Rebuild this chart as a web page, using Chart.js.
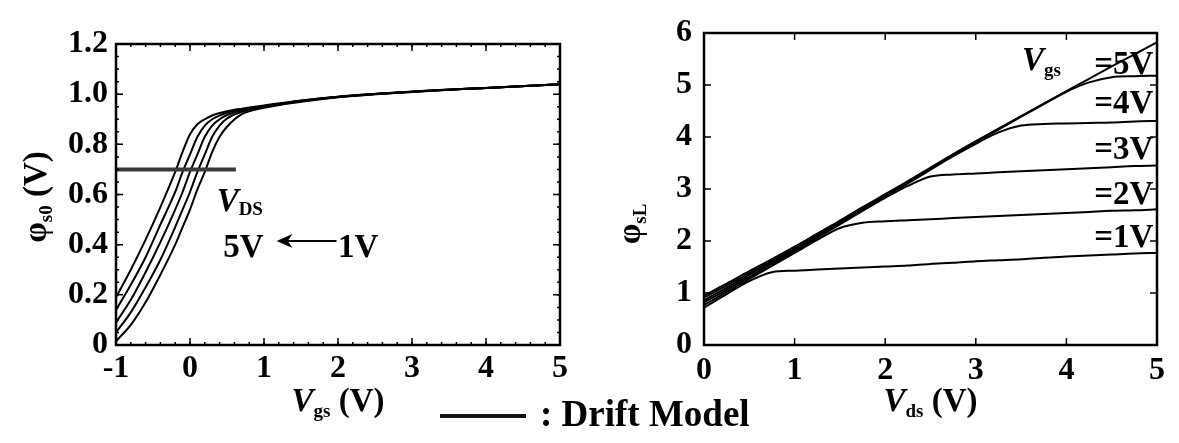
<!DOCTYPE html>
<html>
<head>
<meta charset="utf-8">
<script src="https://cdn.jsdelivr.net/npm/chart.js@4.4.1/dist/chart.umd.min.js"></script>
<style>
    body { margin: 0; background: #fff; }
    #page { position: relative; width: 1179px; height: 443px; overflow: hidden; background: #fff; }
    #phi-s0 { position: absolute; left: 0; top: 0; }
    #phi-sl { position: absolute; left: 590px; top: 0; }
    .key { position: absolute; left: 440px; top: 392px; font: bold 37px "Liberation Serif", serif; color: #000; white-space: nowrap; }
    .key .swatch { display: inline-block; width: 86px; height: 4px; background: #111; vertical-align: middle; margin-right: 14px; position: relative; top: -2px; }
</style>
</head>
<body>
<div id="page">
    <canvas id="phi-s0" width="590" height="443"></canvas>
    <canvas id="phi-sl" width="589" height="443"></canvas>
    <div class="key"><span class="swatch"></span>: Drift Model</div>
</div>
<script>
const serif = '"Liberation Serif", "Times New Roman", serif';

// phi_s0 against Vgs, one curve per drain bias
const vgsPoints = [-1, -0.8, -0.6, -0.4, -0.2, -0.1, 0, 0.1, 0.2, 0.3, 0.4, 0.5, 0.7, 1, 1.5, 2, 3, 4, 5];
const phiS0_vds5 = [0.19, 0.30, 0.42, 0.55, 0.69, 0.77, 0.84, 0.88, 0.90, 0.915, 0.925, 0.932, 0.942, 0.955, 0.975, 0.99, 1.01, 1.025, 1.04];
const phiS0_vds4 = [0.14, 0.24, 0.35, 0.48, 0.61, 0.69, 0.76, 0.83, 0.875, 0.90, 0.915, 0.926, 0.939, 0.953, 0.974, 0.99, 1.01, 1.025, 1.04];
const phiS0_vds3 = [0.09, 0.18, 0.29, 0.41, 0.54, 0.61, 0.69, 0.76, 0.83, 0.875, 0.90, 0.917, 0.935, 0.951, 0.973, 0.989, 1.01, 1.025, 1.04];
const phiS0_vds2 = [0.05, 0.13, 0.23, 0.34, 0.47, 0.54, 0.61, 0.69, 0.76, 0.83, 0.875, 0.903, 0.93, 0.949, 0.972, 0.989, 1.01, 1.025, 1.04];
const phiS0_vds1 = [0.015, 0.08, 0.17, 0.28, 0.40, 0.47, 0.54, 0.62, 0.69, 0.77, 0.83, 0.87, 0.92, 0.946, 0.97, 0.988, 1.009, 1.025, 1.04];
const thresholdVgs = [-1, 0.62];
const thresholdPhi = [0.7, 0.7];

const vgsTicks = ['-1', '0', '1', '2', '3', '4', '5'];
const phiS0Ticks = ['0', '0.2', '0.4', '0.6', '0.8', '1.0', '1.2'];

// phi_sL against Vds, one curve per gate bias
const vdsPoints = [0, 0.25, 0.5, 0.75, 1, 1.25, 1.5, 1.75, 2, 2.25, 2.5, 2.75, 3, 3.25, 3.5, 3.75, 4, 4.25, 4.5, 4.75, 5];
const phiSL_vgs1 = [0.72, 0.98, 1.23, 1.40, 1.43, 1.45, 1.47, 1.49, 1.51, 1.53, 1.56, 1.58, 1.61, 1.63, 1.65, 1.68, 1.70, 1.72, 1.74, 1.76, 1.77];
const phiSL_vgs2 = [0.77, 1.02, 1.27, 1.52, 1.77, 2.02, 2.25, 2.35, 2.38, 2.40, 2.42, 2.44, 2.46, 2.48, 2.50, 2.52, 2.54, 2.56, 2.58, 2.59, 2.61];
const phiSL_vgs3 = [0.82, 1.06, 1.31, 1.56, 1.80, 2.06, 2.32, 2.58, 2.83, 3.06, 3.24, 3.28, 3.30, 3.32, 3.34, 3.36, 3.38, 3.40, 3.42, 3.44, 3.45];
const phiSL_vgs4 = [0.86, 1.10, 1.35, 1.59, 1.83, 2.08, 2.34, 2.60, 2.86, 3.11, 3.37, 3.63, 3.87, 4.09, 4.22, 4.25, 4.26, 4.27, 4.28, 4.30, 4.31];
const phiSL_vgs5 = [0.91, 1.14, 1.38, 1.62, 1.86, 2.11, 2.37, 2.63, 2.88, 3.13, 3.39, 3.65, 3.90, 4.14, 4.39, 4.63, 4.87, 5.05, 5.15, 5.17, 5.18];
const phiSL_upper = [0.95, 1.18, 1.42, 1.65, 1.89, 2.14, 2.39, 2.65, 2.90, 3.15, 3.41, 3.67, 3.92, 4.16, 4.40, 4.64, 4.88, 5.12, 5.36, 5.59, 5.82];

const vdsTicks = ['0', '1', '2', '3', '4', '5'];
const phiSLTicks = ['0', '1', '2', '3', '4', '5', '6'];

function toPoints(xs, ys) {
    return xs.map((x, i) => ({ x: x, y: ys[i] }));
}

function curve(xs, ys, width, color) {
    return {
        data: toPoints(xs, ys),
        borderColor: color || '#000',
        borderWidth: width,
        pointRadius: 0,
        cubicInterpolationMode: 'monotone',
        fill: false
    };
}

// text made of runs with their own font and baseline shift (for subscripts)
function drawRich(ctx, parts, x, y, align) {
    let width = 0;
    parts.forEach(p => {
        ctx.font = p.font;
        width += ctx.measureText(p.text).width + (p.gap || 0);
    });
    let cx = x;
    if (align === 'center') cx = x - width / 2;
    if (align === 'right') cx = x - width;
    ctx.textAlign = 'left';
    ctx.textBaseline = 'alphabetic';
    parts.forEach(p => {
        ctx.font = p.font;
        ctx.fillText(p.text, cx, y + (p.dy || 0));
        cx += ctx.measureText(p.text).width + (p.gap || 0);
    });
}

function tickValues(min, max, step) {
    let out = [];
    let n = Math.round((max - min) / step);
    for (let i = 0; i <= n; i++) out.push(min + i * step);
    return out;
}

const framePlugin = {
    id: 'frame',
    afterDatasetsDraw(chart, args, opts) {
        const ctx = chart.ctx;
        const a = chart.chartArea;
        const xs = chart.scales.x;
        const ys = chart.scales.y;
        ctx.save();
        ctx.fillStyle = '#000';
        ctx.strokeStyle = '#000';

        // inward ticks on all four sides
        ctx.lineWidth = 1.5;
        const xTicks = (step, len) => {
            tickValues(xs.min, xs.max, step).forEach(v => {
                let px = xs.getPixelForValue(v);
                ctx.beginPath();
                ctx.moveTo(px, a.bottom); ctx.lineTo(px, a.bottom - len);
                ctx.moveTo(px, a.top); ctx.lineTo(px, a.top + len);
                ctx.stroke();
            });
        };
        const yTicks = (step, len) => {
            tickValues(ys.min, ys.max, step).forEach(v => {
                let py = ys.getPixelForValue(v);
                ctx.beginPath();
                ctx.moveTo(a.left, py); ctx.lineTo(a.left + len, py);
                ctx.moveTo(a.right, py); ctx.lineTo(a.right - len, py);
                ctx.stroke();
            });
        };
        if (opts.xMinor) xTicks(opts.xMinor, 3);
        if (opts.yMinor) yTicks(opts.yMinor, 3);
        xTicks(opts.xMajor, 7);
        yTicks(opts.yMajor, 7);

        ctx.lineWidth = 2.5;
        ctx.strokeRect(a.left, a.top, a.right - a.left, a.bottom - a.top);

        // axis titles
        const midX = (a.left + a.right) / 2;
        drawRich(ctx, opts.xTitle, midX, opts.xTitleY, 'center');
        ctx.save();
        ctx.translate(opts.yTitleX, opts.yTitleY);
        ctx.rotate(-Math.PI / 2);
        drawRich(ctx, opts.yTitle, 0, 0, 'center');
        ctx.restore();

        // notes placed in data coordinates
        (opts.notes || []).forEach(n => {
            drawRich(ctx, n.parts, xs.getPixelForValue(n.x), ys.getPixelForValue(n.y), n.align || 'left');
        });
        (opts.arrows || []).forEach(ar => {
            let x0 = xs.getPixelForValue(ar.from), x1 = xs.getPixelForValue(ar.to), py = ys.getPixelForValue(ar.y);
            ctx.lineWidth = 2;
            ctx.beginPath();
            ctx.moveTo(x0 + 8, py); ctx.lineTo(x1, py);
            ctx.stroke();
            ctx.beginPath();
            ctx.moveTo(x0, py);
            ctx.lineTo(x0 + 16, py - 7);
            ctx.lineTo(x0 + 11, py);
            ctx.lineTo(x0 + 16, py + 7);
            ctx.closePath();
            ctx.fill();
        });
        ctx.restore();
    }
};

function big(t) { return { text: t, font: 'bold 33px ' + serif }; }
function bigItalic(t) { return { text: t, font: 'italic bold 33px ' + serif }; }
function sub(t, dy) { return { text: t, font: 'bold 19px ' + serif, dy: dy === undefined ? 5 : dy }; }

function axisX(min, max, labels, pad) {
    return {
        type: 'linear',
        min: min,
        max: max,
        afterFit: scale => { scale.height = 98; },
        afterBuildTicks: scale => { scale.ticks = tickValues(min, max, 1).map(v => ({ value: v })); },
        grid: { display: false, drawTicks: false },
        border: { display: false },
        ticks: {
            padding: pad,
            color: '#000',
            font: { family: serif, size: 32, weight: 'bold' },
            callback: (v, i) => labels[i]
        }
    };
}

function axisY(min, max, step, labels, width, pad) {
    return {
        type: 'linear',
        min: min,
        max: max,
        afterFit: scale => { scale.width = width; },
        afterBuildTicks: scale => { scale.ticks = tickValues(min, max, step).map(v => ({ value: v })); },
        grid: { display: false, drawTicks: false },
        border: { display: false },
        ticks: {
            padding: pad,
            color: '#000',
            font: { family: serif, size: 32, weight: 'bold' },
            callback: (v, i) => labels[i]
        }
    };
}

let phiS0Chart = new Chart(document.getElementById('phi-s0').getContext('2d'), {
    type: 'line',
    data: {
        datasets: [
            curve(thresholdVgs, thresholdPhi, 4, '#3a3a3a'),
            curve(vgsPoints, phiS0_vds5, 2),
            curve(vgsPoints, phiS0_vds4, 2),
            curve(vgsPoints, phiS0_vds3, 2),
            curve(vgsPoints, phiS0_vds2, 2),
            curve(vgsPoints, phiS0_vds1, 2)
        ]
    },
    options: {
        responsive: false,
        animation: false,
        layout: { padding: { top: 44, right: 30, left: 0, bottom: 0 } },
        scales: {
            x: axisX(-1, 5, vgsTicks, 5),
            y: axisY(0, 1.2, 0.2, phiS0Ticks, 116, 8)
        },
        plugins: {
            legend: { display: false },
            tooltip: { enabled: false },
            frame: {
                xMajor: 1, xMinor: 0.2, yMajor: 0.2, yMinor: 0.05,
                xTitle: [bigItalic('V'), sub('gs', 6), { text: ' (V)', font: 'bold 33px ' + serif }],
                xTitleY: 411,
                yTitle: [big('\u03c6'), sub('s0', 6), { text: ' (V)', font: 'bold 33px ' + serif }],
                yTitleX: 46,
                yTitleY: 197,
                notes: [
                    { x: 0.36, y: 0.535, parts: [bigItalic('V'), sub('DS', 4)] },
                    { x: 0.45, y: 0.35, parts: [big('5V')] },
                    { x: 2.0, y: 0.35, parts: [big('1V')] }
                ],
                arrows: [{ from: 1.17, to: 1.98, y: 0.415 }]
            }
        }
    },
    plugins: [framePlugin]
});

let phiSLChart = new Chart(document.getElementById('phi-sl').getContext('2d'), {
    type: 'line',
    data: {
        datasets: [
            curve(vdsPoints, phiSL_vgs1, 2),
            curve(vdsPoints, phiSL_vgs2, 2),
            curve(vdsPoints, phiSL_vgs3, 2),
            curve(vdsPoints, phiSL_vgs4, 2),
            curve(vdsPoints, phiSL_vgs5, 2),
            curve(vdsPoints, phiSL_upper, 2)
        ]
    },
    options: {
        responsive: false,
        animation: false,
        layout: { padding: { top: 33, right: 22, left: 0, bottom: 0 } },
        scales: {
            x: axisX(0, 5, vdsTicks, 7),
            y: axisY(0, 6, 1, phiSLTicks, 114, 12)
        },
        plugins: {
            legend: { display: false },
            tooltip: { enabled: false },
            frame: {
                xMajor: 1, yMajor: 1,
                xTitle: [bigItalic('V'), sub('ds', 6), { text: ' (V)', font: 'bold 33px ' + serif }],
                xTitleY: 411,
                yTitle: [big('\u03c6'), sub('sL', 6)],
                yTitleX: 50,
                yTitleY: 224,
                notes: [
                    { x: 3.51, y: 5.28, parts: [bigItalic('V'), sub('gs', 6)] },
                    { x: 4.96, y: 5.22, parts: [big('=5V')], align: 'right' },
                    { x: 4.96, y: 4.46, parts: [big('=4V')], align: 'right' },
                    { x: 4.96, y: 3.58, parts: [big('=3V')], align: 'right' },
                    { x: 4.96, y: 2.71, parts: [big('=2V')], align: 'right' },
                    { x: 4.96, y: 1.89, parts: [big('=1V')], align: 'right' }
                ]
            }
        }
    },
    plugins: [framePlugin]
});
</script>
</body>
</html>
